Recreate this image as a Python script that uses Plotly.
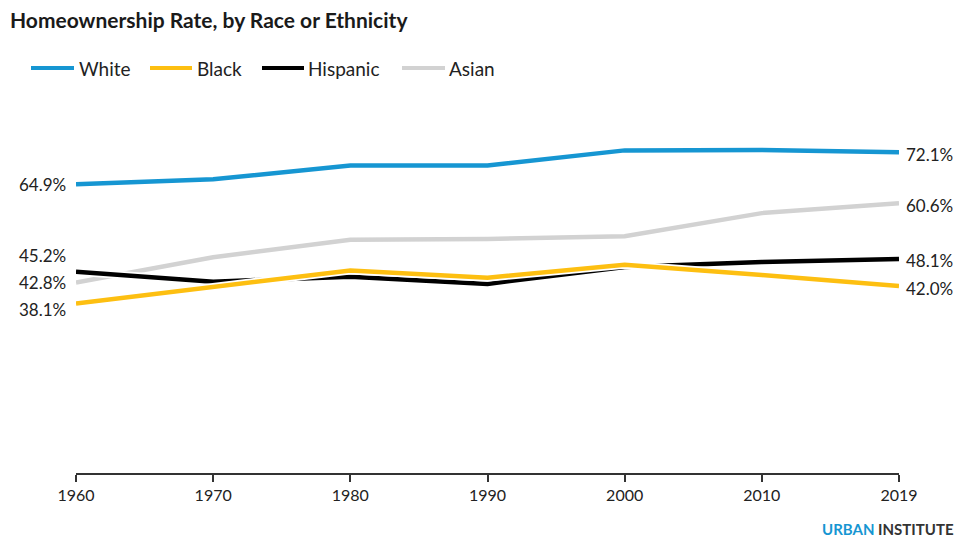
import plotly.graph_objects as go

# ---------------- data ----------------
years = ["1960", "1970", "1980", "1990", "2000", "2010", "2019"]
white = [64.9, 66.0, 69.1, 69.1, 72.5, 72.6, 72.1]
black = [38.1, 41.9, 45.5, 43.9, 46.8, 44.5, 42.0]
hispanic = [45.2, 43.0, 44.1, 42.5, 46.3, 47.4, 48.1]
asian = [42.8, 48.5, 52.4, 52.6, 53.2, 58.4, 60.6]

series_names = ["White", "Black", "Hispanic", "Asian"]
series_values = [white, black, hispanic, asian]
series_colors = ["#1696d2", "#fdbf11", "#000000", "#d2d2d2"]

# ---------------- layout constants ----------------
W, H = 958, 540
ML, MR, MT, MB = 76, 59, 117, 67
PW, PH = W - ML - MR, H - MT - MB
FONT = "Lato"
TXT = "#222222"


def px_x(px):
    return (px - ML) / PW


def px_y(py):
    return (H - MB - py) / PH


fig = go.Figure()

# draw order: Asian, Hispanic, Black, White (with white halos)
draw_order = [3, 2, 1, 0]
for i in draw_order:
    fig.add_trace(go.Scatter(
        x=years, y=series_values[i], mode="lines",
        line=dict(color="white", width=8), hoverinfo="skip", showlegend=False))
    fig.add_trace(go.Scatter(
        x=years, y=series_values[i], mode="lines", name=series_names[i],
        line=dict(color=series_colors[i], width=4.5), showlegend=False))

annotations = []
shapes = []

# end labels (pixel shifts to avoid overlap)
left_shift = {"White": 0, "Black": -6, "Hispanic": 16, "Asian": 0}
right_shift = {"White": -2, "Black": -2, "Hispanic": -2, "Asian": -2}
for name, vals in zip(series_names, series_values):
    annotations.append(dict(
        x=0, y=vals[0], xref="paper", yref="y", text=f"{vals[0]:.1f}%",
        showarrow=False, xanchor="right", yanchor="middle", xshift=-8,
        yshift=left_shift[name], font=dict(family=FONT, size=17, color=TXT)))
    annotations.append(dict(
        x=1, y=vals[-1], xref="paper", yref="y", text=f"{vals[-1]:.1f}%",
        showarrow=False, xanchor="left", yanchor="middle", xshift=5,
        yshift=right_shift[name], font=dict(family=FONT, size=17, color=TXT)))

# custom legend
legend_pos = [(31, 74, 77), (150, 192, 195), (262, 304, 306), (402, 445, 447)]
legend_y = 68
for (x0, x1, xt), name, col in zip(legend_pos, series_names, series_colors):
    shapes.append(dict(type="line", xref="paper", yref="paper",
                       x0=px_x(x0), x1=px_x(x1), y0=px_y(legend_y), y1=px_y(legend_y),
                       line=dict(color=col, width=4)))
    annotations.append(dict(
        x=px_x(xt), y=px_y(legend_y + 1), xref="paper", yref="paper", text=name,
        showarrow=False, xanchor="left", yanchor="middle",
        font=dict(family=FONT, size=19, color=TXT)))

# footer
annotations.append(dict(
    x=px_x(955), y=px_y(529), xref="paper", yref="paper",
    text="<b><span style='color:#1696d2'>URBAN</span> INSTITUTE</b>",
    showarrow=False, xanchor="right", yanchor="middle", borderpad=0,
    font=dict(family=FONT, size=15, color="#333333")))

fig.update_layout(
    width=W, height=H,
    margin=dict(l=ML, r=MR, t=MT, b=MB),
    paper_bgcolor="white", plot_bgcolor="white",
    title=dict(text="<b>Homeownership Rate, by Race or Ethnicity</b>",
               x=10 / W, xanchor="left", y=1 - 21 / H, yanchor="middle",
               font=dict(family=FONT, size=21, color="#1a1a1a")),
    xaxis=dict(type="category", range=[0, len(years) - 1], showgrid=False,
               zeroline=False, showline=True, linecolor="#333333", linewidth=2,
               ticks="outside", ticklen=7, tickwidth=2, tickcolor="#333333",
               tickfont=dict(family=FONT, size=16, color=TXT)),
    yaxis=dict(range=[0, 80], visible=False, showgrid=False, zeroline=False),
    annotations=annotations, shapes=shapes, showlegend=False,
)

fig.write_html("out.html")
